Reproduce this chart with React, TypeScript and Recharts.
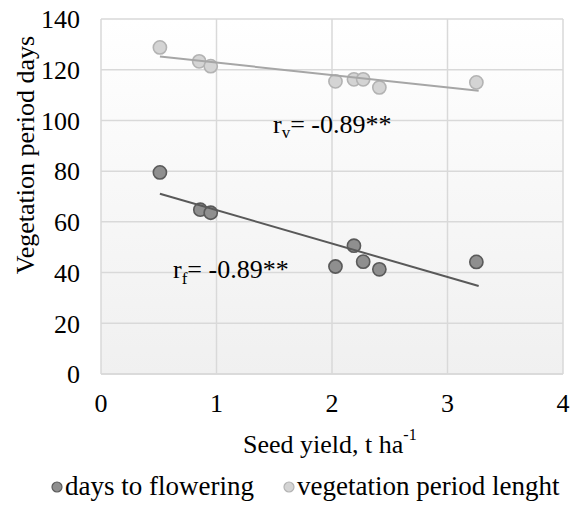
import React from 'react';
import { ScatterChart, Scatter, XAxis, YAxis, CartesianGrid } from 'recharts';

// Seed yield (t/ha) for each genotype
const yieldFlowering = [0.51, 0.86, 0.95, 2.03, 2.19, 2.27, 2.41, 3.25];
const daysFlowering = [79.5, 64.8, 63.6, 42.4, 50.6, 44.3, 41.3, 44.2];

const yieldVegetation = [0.51, 0.85, 0.95, 2.03, 2.19, 2.27, 2.41, 3.25];
const daysVegetation = [128.8, 123.3, 121.4, 115.4, 116.2, 116.2, 113.0, 115.0];

// Trend line end points
const trendFloweringX = [0.51, 3.27];
const trendFloweringY = [71.1, 34.7];
const trendVegetationX = [0.51, 3.27];
const trendVegetationY = [125.2, 111.7];

const xTicks = [0, 1, 2, 3, 4];
const yTicks = [0, 20, 40, 60, 80, 100, 120, 140];

const floweringData = yieldFlowering.map((x, i) => ({ x, y: daysFlowering[i] }));
const vegetationData = yieldVegetation.map((x, i) => ({ x, y: daysVegetation[i] }));
const floweringTrend = trendFloweringX.map((x, i) => ({ x, y: trendFloweringY[i] }));
const vegetationTrend = trendVegetationX.map((x, i) => ({ x, y: trendVegetationY[i] }));

const FONT = '"Liberation Serif", "Times New Roman", serif';

const dot = (fill: string, stroke: string) => (props: any) => (
  <circle cx={props.cx} cy={props.cy} r={6.6} fill={fill} stroke={stroke} strokeWidth={1.6} />
);
const noDot = () => <g />;

export default function App() {
  return (
    <div
      style={{
        position: 'absolute',
        left: 0,
        top: 0,
        width: 575,
        height: 506,
        background: '#fff',
        fontFamily: FONT,
      }}
    >
      <svg width={0} height={0} style={{ position: 'absolute' }}>
        <defs>
          <linearGradient id="plotBg" x1="0" y1="0" x2="0" y2="1">
            <stop offset="0%" stopColor="#ffffff" />
            <stop offset="100%" stopColor="#f0f0f0" />
          </linearGradient>
        </defs>
      </svg>
      <ScatterChart
        width={575}
        height={506}
        margin={{ top: 19, right: 12, bottom: 0, left: 0 }}
        style={{ fontFamily: FONT }}
      >
        <CartesianGrid stroke="#d9d9d9" strokeWidth={1.5} fill="url(#plotBg)" fillOpacity={1} />
        <XAxis
          type="number"
          dataKey="x"
          domain={[0, 4]}
          ticks={xTicks}
          height={132}
          axisLine={{ stroke: '#d9d9d9', strokeWidth: 1.5 }}
          tickLine={false}
          tickSize={0}
          tickMargin={20}
          tick={{ fontFamily: FONT, fontSize: 26, fill: '#000' }}
        />
        <YAxis
          type="number"
          dataKey="y"
          domain={[0, 140]}
          ticks={yTicks}
          width={101}
          axisLine={false}
          tickLine={false}
          tickSize={0}
          tickMargin={21}
          tick={{ fontFamily: FONT, fontSize: 26, fill: '#000' }}
        />
        <Scatter data={vegetationData} shape={dot('#d4d4d4', '#b3b3b3')} isAnimationActive={false} />
        <Scatter data={floweringData} shape={dot('#8f8f8f', '#5a5a5a')} isAnimationActive={false} />
        <Scatter
          data={vegetationTrend}
          line={{ stroke: '#a6a6a6', strokeWidth: 2 }}
          shape={noDot}
          isAnimationActive={false}
        />
        <Scatter
          data={floweringTrend}
          line={{ stroke: '#595959', strokeWidth: 2 }}
          shape={noDot}
          isAnimationActive={false}
        />
      </ScatterChart>
      <svg
        width={575}
        height={506}
        style={{ position: 'absolute', left: 0, top: 0, pointerEvents: 'none', fontFamily: FONT }}
      >
        <text x={33.5} y={155} transform="rotate(-90 33.5 155)" textAnchor="middle" fontSize={26} fill="#000">
          Vegetation period days
        </text>
        <text x={243} y={453} fontSize={26} fill="#000">
          Seed yield, t ha<tspan fontSize={16} dy={-13}>-1</tspan>
        </text>
        <text x={273} y={133} fontSize={26} fill="#000">
          r<tspan fontSize={17} dy={5}>v</tspan>
          <tspan dy={-5}>= -0.89**</tspan>
        </text>
        <text x={173} y={278} fontSize={26} fill="#000">
          r<tspan fontSize={17} dy={6}>f</tspan>
          <tspan dy={-6}>= -0.89**</tspan>
        </text>
        <circle cx={57} cy={487} r={5} fill="#8f8f8f" stroke="#5a5a5a" strokeWidth={1.2} />
        <text x={65} y={495} fontSize={27} fill="#000">days to flowering</text>
        <circle cx={289} cy={487} r={5} fill="#d4d4d4" stroke="#b3b3b3" strokeWidth={1.2} />
        <text x={297} y={495} fontSize={27} fill="#000">vegetation period lenght</text>
      </svg>
    </div>
  );
}
